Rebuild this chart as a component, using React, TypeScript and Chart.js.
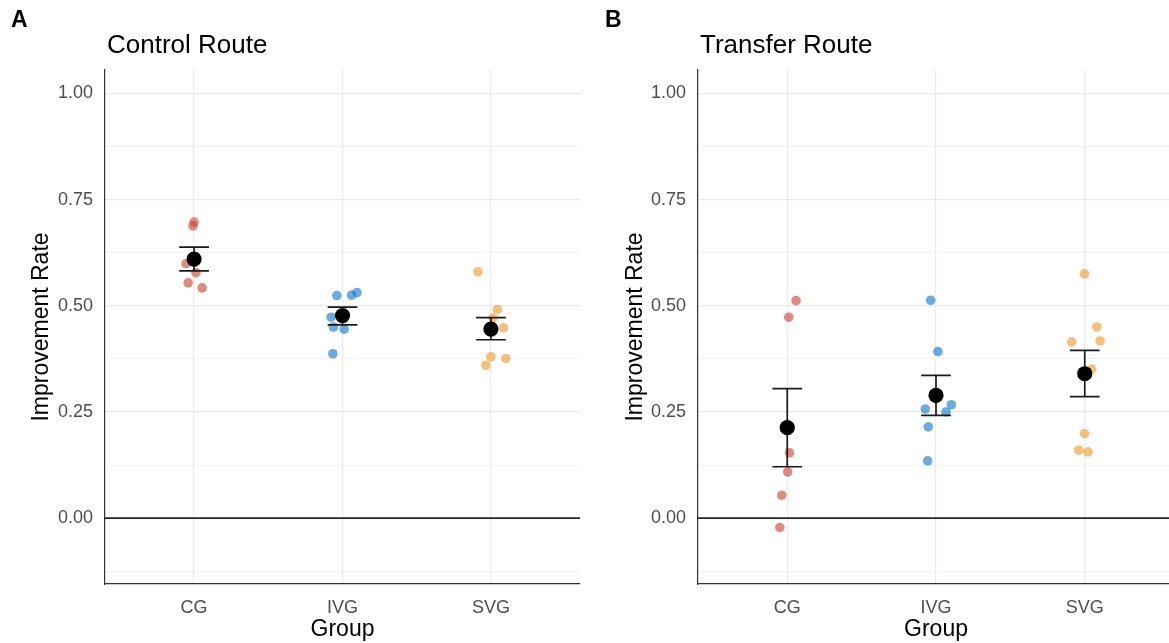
import React, { useEffect, useRef } from "react";
import { Chart, registerables } from "chart.js";

Chart.register(...registerables);

const FONT = "'Liberation Sans', Arial, sans-serif";

const groups = ["CG", "IVG", "SVG"];
const xMin = 0.4;
const xMax = 3.6;
const yMin = -0.155;
const yMax = 1.055;
const yGridValues = [-0.125, 0, 0.125, 0.25, 0.375, 0.5, 0.625, 0.75, 0.875, 1.0];
const yMajorTicks = [0, 0.25, 0.5, 0.75, 1.0];

// Panel A: Control Route (individual values and their horizontal jitter)
const controlCG = [0.697, 0.688, 0.599, 0.578, 0.554, 0.542];
const controlCGJitter = [0.0, -0.007, -0.054, 0.013, -0.04, 0.054];
const controlIVG = [0.524, 0.525, 0.531, 0.473, 0.45, 0.445, 0.387];
const controlIVGJitter = [-0.038, 0.061, 0.098, -0.077, -0.061, 0.011, -0.065];
const controlSVG = [0.58, 0.491, 0.471, 0.448, 0.38, 0.376, 0.36];
const controlSVGJitter = [-0.088, 0.044, 0.013, 0.084, 0.0, 0.1, -0.034];
const controlMeans = [0.61, 0.477, 0.445];
const controlLower = [0.582, 0.455, 0.42];
const controlUpper = [0.638, 0.497, 0.472];

// Panel B: Transfer Route
const transferCG = [0.512, 0.473, 0.154, 0.109, 0.054, -0.022];
const transferCGJitter = [0.059, 0.01, 0.015, 0.003, -0.037, -0.05];
const transferIVG = [0.513, 0.392, 0.257, 0.267, 0.25, 0.215, 0.135];
const transferIVGJitter = [-0.036, 0.013, -0.072, 0.103, 0.067, -0.052, -0.056];
const transferSVG = [0.575, 0.45, 0.415, 0.417, 0.351, 0.199, 0.16, 0.156];
const transferSVGJitter = [-0.002, 0.081, -0.088, 0.103, 0.047, -0.002, -0.04, 0.022];
const transferMeans = [0.213, 0.289, 0.34];
const transferLower = [0.121, 0.242, 0.286];
const transferUpper = [0.305, 0.336, 0.395];

const groupColors = ["rgba(200,70,55,0.62)", "rgba(20,120,200,0.62)", "rgba(235,150,40,0.6)"];
const capHalfWidth = 0.1;

type PanelProps = {
  values: number[][];
  jitters: number[][];
  means: number[];
  lower: number[];
  upper: number[];
  width: number;
  height: number;
  plotLeft: number;
  plotRight: number;
  plotTop: number;
  plotBottom: number;
  yTitlePad: number;
};

function Panel(props: PanelProps) {
  const ref = useRef<HTMLCanvasElement | null>(null);
  useEffect(() => {
    const canvas = ref.current;
    if (!canvas) return;
    const { values, jitters, means, lower, upper } = props;

    const errData: any[] = [];
    means.forEach((_, i) => {
      const c = i + 1;
      errData.push({ x: c - capHalfWidth, y: lower[i] }, { x: c + capHalfWidth, y: lower[i] }, { x: c, y: null });
      errData.push({ x: c, y: lower[i] }, { x: c, y: upper[i] }, { x: c, y: null });
      errData.push({ x: c - capHalfWidth, y: upper[i] }, { x: c + capHalfWidth, y: upper[i] }, { x: c, y: null });
    });

    const pointSets = values.map((vals, g) => ({
      type: "scatter" as const,
      label: groups[g],
      data: vals.map((v, k) => ({ x: g + 1 + jitters[g][k], y: v })),
      backgroundColor: groupColors[g],
      borderWidth: 0,
      pointRadius: 4.8,
      order: 3,
    }));

    const chart = new Chart(canvas, {
      type: "scatter",
      data: {
        datasets: [
          {
            type: "scatter",
            label: "mean",
            data: means.map((m, i) => ({ x: i + 1, y: m })),
            backgroundColor: "#000000",
            borderWidth: 0,
            pointRadius: 7.6,
            order: 0,
          } as any,
          {
            type: "line",
            label: "se",
            data: errData,
            borderColor: "#1a1a1a",
            borderWidth: 1.7,
            pointRadius: 0,
            spanGaps: false,
            fill: false,
            order: 1,
          } as any,
          {
            type: "line",
            label: "zero",
            data: [
              { x: xMin, y: 0 },
              { x: xMax, y: 0 },
            ],
            borderColor: "#262626",
            borderWidth: 1.6,
            pointRadius: 0,
            fill: false,
            order: 2,
          } as any,
          ...pointSets,
        ],
      },
      options: {
        animation: false,
        responsive: false,
        devicePixelRatio: 1,
        layout: {
          autoPadding: false,
          padding: { top: props.plotTop, right: props.width - props.plotRight, left: 0, bottom: 0 },
        },
        plugins: { legend: { display: false }, tooltip: { enabled: false } },
        scales: {
          x: {
            type: "linear",
            min: xMin,
            max: xMax,
            afterBuildTicks: (scale: any) => {
              scale.ticks = groups.map((_, i) => ({ value: i + 1 }));
            },
            afterFit: (scale: any) => {
              scale.height = props.height - props.plotBottom;
            },
            ticks: {
              autoSkip: false,
              maxRotation: 0,
              padding: 13,
              color: "#4D4D4D",
              font: { family: FONT, size: 18 },
              callback: (v: any) => groups[Math.round(Number(v)) - 1] ?? "",
            },
            grid: { color: "#EBEBEB", lineWidth: 1.2, drawTicks: false },
            border: { display: true, color: "#333333", width: 1.2 },
            title: {
              display: true,
              text: "Group",
              color: "#000000",
              font: { family: FONT, size: 23 },
              padding: { top: 0, bottom: 0 },
            },
          },
          y: {
            type: "linear",
            min: yMin,
            max: yMax,
            afterBuildTicks: (scale: any) => {
              scale.ticks = yGridValues.map((v) => ({ value: v }));
            },
            afterFit: (scale: any) => {
              scale.width = props.plotLeft;
            },
            ticks: {
              autoSkip: false,
              padding: 12,
              color: "#4D4D4D",
              font: { family: FONT, size: 18 },
              callback: (v: any) => (yMajorTicks.includes(Number(v)) ? Number(v).toFixed(2) : ""),
            },
            grid: {
              drawTicks: false,
              color: (ctx: any) =>
                ctx.tick && yMajorTicks.includes(ctx.tick.value) ? "#E9E9E9" : "#F2F2F2",
              lineWidth: (ctx: any) => (ctx.tick && yMajorTicks.includes(ctx.tick.value) ? 1.2 : 1),
            },
            border: { display: true, color: "#333333", width: 1.2 },
            title: {
              display: true,
              text: "Improvement Rate",
              color: "#000000",
              font: { family: FONT, size: 23 },
              padding: { top: props.yTitlePad, bottom: 0 },
            },
          },
        },
      } as any,
    });
    return () => chart.destroy();
  }, []);
  return (
    <canvas
      ref={ref}
      width={props.width}
      height={props.height}
      style={{ display: "block", width: props.width, height: props.height }}
    />
  );
}

const labelStyle: React.CSSProperties = {
  position: "absolute",
  fontFamily: FONT,
  lineHeight: 1,
  whiteSpace: "nowrap",
  color: "#000",
};

export default function App() {
  const H = 643;
  return (
    <div style={{ position: "absolute", left: 0, top: 0, width: 1169, height: H, background: "#fff", overflow: "hidden" }}>
      <div style={{ position: "absolute", left: 0, top: 0 }}>
        <Panel
          values={[controlCG, controlIVG, controlSVG]}
          jitters={[controlCGJitter, controlIVGJitter, controlSVGJitter]}
          means={controlMeans}
          lower={controlLower}
          upper={controlUpper}
          width={592}
          height={H}
          plotLeft={105}
          plotRight={580}
          plotTop={70}
          plotBottom={584}
          yTitlePad={28}
        />
      </div>
      <div style={{ position: "absolute", left: 592, top: 0 }}>
        <Panel
          values={[transferCG, transferIVG, transferSVG]}
          jitters={[transferCGJitter, transferIVGJitter, transferSVGJitter]}
          means={transferMeans}
          lower={transferLower}
          upper={transferUpper}
          width={586}
          height={H}
          plotLeft={106}
          plotRight={582}
          plotTop={70}
          plotBottom={584}
          yTitlePad={30}
        />
      </div>
      <div style={{ ...labelStyle, left: 11, top: 8, fontSize: 23, fontWeight: 700 }}>A</div>
      <div style={{ ...labelStyle, left: 605, top: 8, fontSize: 23, fontWeight: 700 }}>B</div>
      <div style={{ ...labelStyle, left: 107, top: 31, fontSize: 26 }}>Control Route</div>
      <div style={{ ...labelStyle, left: 700, top: 31, fontSize: 26 }}>Transfer Route</div>
    </div>
  );
}
